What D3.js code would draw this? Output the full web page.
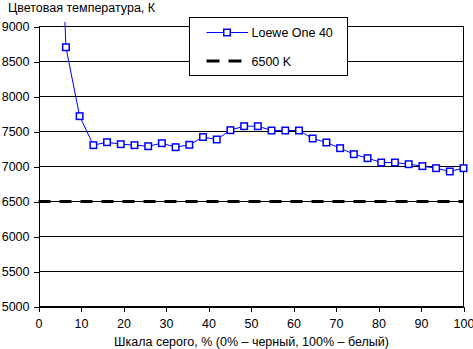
<!DOCTYPE html>
<html><head><meta charset="utf-8">
<script src="https://cdn.jsdelivr.net/npm/d3@7"></script>
<style>
html,body{margin:0;padding:0;background:#fff;}
svg{display:block;font-family:"Liberation Sans",Arial,sans-serif;}
</style></head>
<body>
<svg id="c" width="473" height="349"></svg>
<script>
const grayLevels = d3.range(32).map(i => i * 100 / 31);
const seriesName = "Loewe One 40";
const tempValues = [16000, 14000, 8704, 7719, 7305, 7347, 7319, 7305, 7290, 7333, 7276, 7310,
  7421, 7386, 7519, 7576, 7576, 7514, 7514, 7514, 7400, 7343, 7262, 7176, 7119, 7057, 7057,
  7033, 7005, 6976, 6929, 6976];
const refName = "6500 K";
const refValue = 6500;
const yTicks = [5000, 5500, 6000, 6500, 7000, 7500, 8000, 8500, 9000];
const xTicks = [0, 10, 20, 30, 40, 50, 60, 70, 80, 90, 100];
const yTitle = "Цветовая температура, К";
const xTitle = "Шкала серого, % (0% – черный, 100% – белый)";

const svg = d3.select("#c");
const x = d3.scaleLinear().domain([0, 100]).range([38.5, 463.5]);
const y = d3.scaleLinear().domain([5000, 9000]).range([306.5, 26.5]);
const fs = "12.5px";

// gridlines
svg.append("g").selectAll("line").data(yTicks).join("line")
  .attr("x1", x(0)).attr("x2", x(100))
  .attr("y1", d => y(d)).attr("y2", d => y(d))
  .attr("stroke", "#000").attr("stroke-width", 1).attr("shape-rendering", "crispEdges");

// right border
svg.append("line").attr("x1", x(100)).attr("x2", x(100)).attr("y1", y(9000)).attr("y2", y(5000))
  .attr("stroke", "#000").attr("shape-rendering", "crispEdges");

// axes
const yAxis = d3.axisLeft(y).tickValues(yTicks).tickFormat(d3.format("d")).tickSize(5).tickSizeOuter(0).tickPadding(4);
const gy = svg.append("g").attr("transform", `translate(${x(0)},0)`).call(yAxis);
const xAxis = d3.axisBottom(x).tickValues(xTicks).tickFormat(d3.format("d")).tickSize(5).tickSizeOuter(0).tickPadding(8);
const gx = svg.append("g").attr("transform", `translate(0,${y(5000)})`).call(xAxis);
[gx, gy].forEach(g => {
  g.selectAll("path,line").attr("stroke", "#000").attr("shape-rendering", "crispEdges");
  g.selectAll("text").attr("fill", "#000").style("font-size", fs).style("font-family", '"Liberation Sans",Arial,sans-serif');
});

// reference line
svg.append("line").attr("x1", x(0)).attr("x2", x(100)).attr("y1", y(refValue)).attr("y2", y(refValue))
  .attr("stroke", "#000").attr("stroke-width", 3).attr("stroke-dasharray", "12,9");

// clip
svg.append("clipPath").attr("id", "clip").append("rect")
  .attr("x", x(0)).attr("y", 22).attr("width", x(100) - x(0)).attr("height", y(5000) - 22);

const pts = grayLevels.map((g, i) => ({g, v: tempValues[i]}));
svg.append("path").datum(pts).attr("clip-path", "url(#clip)")
  .attr("fill", "none").attr("stroke", "#0000ff").attr("stroke-width", 1)
  .attr("d", d3.line().x(d => x(d.g)).y(d => y(d.v)));

const ms = 6.5;
svg.append("g").selectAll("rect").data(pts.filter(d => d.v <= 9000)).join("rect")
  .attr("x", d => x(d.g) - ms / 2).attr("y", d => y(d.v) - ms / 2)
  .attr("width", ms).attr("height", ms)
  .attr("fill", "#fff").attr("stroke", "#0000ff").attr("stroke-width", 1.5);

// titles
svg.append("text").attr("x", 8).attr("y", 12).style("font-size", fs).text(yTitle);
svg.append("text").attr("x", 251.5).attr("y", 346).attr("text-anchor", "middle").style("font-size", fs).text(xTitle);

// legend
const lg = svg.append("g");
lg.append("rect").attr("x", 189.5).attr("y", 17.5).attr("width", 158).attr("height", 58)
  .attr("fill", "#fff").attr("stroke", "#000").attr("shape-rendering", "crispEdges");
lg.append("line").attr("x1", 206.5).attr("x2", 248).attr("y1", 32.5).attr("y2", 32.5)
  .attr("stroke", "#0000ff").attr("stroke-width", 1);
lg.append("rect").attr("x", 227 - ms / 2).attr("y", 32.5 - ms / 2).attr("width", ms).attr("height", ms)
  .attr("fill", "#fff").attr("stroke", "#0000ff").attr("stroke-width", 1.5);
lg.append("text").attr("x", 251.5).attr("y", 37).style("font-size", fs).text(seriesName);
lg.append("line").attr("x1", 206.5).attr("x2", 248).attr("y1", 61).attr("y2", 61)
  .attr("stroke", "#000").attr("stroke-width", 3).attr("stroke-dasharray", "13,9");
lg.append("text").attr("x", 251.5).attr("y", 65.5).style("font-size", fs).text(refName);
</script>
</body></html>
